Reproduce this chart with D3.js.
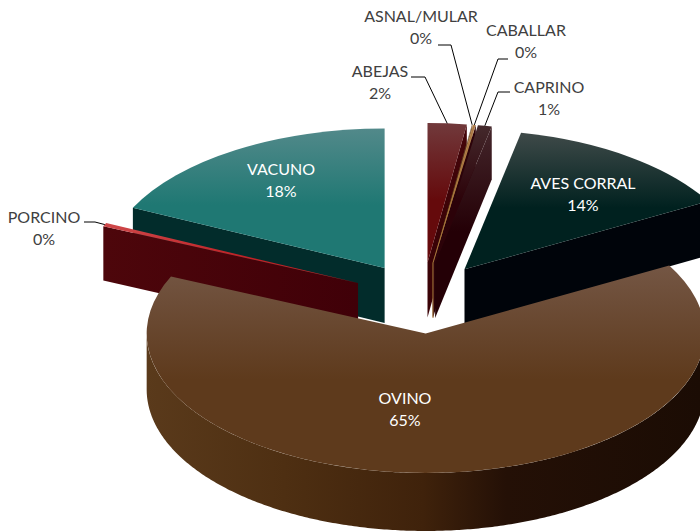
<!DOCTYPE html>
<html lang="en">
<head>
  <meta charset="UTF-8">
  <title>chart</title>
</head>
<body>
<style>
  * {
    padding: 0;
    margin: 0;
  }

  body {
    background: #fff;
  }

  svg {
    display: block;
  }

  text {
    font-family: Lato, "Open Sans", sans-serif;
    font-size: 16px;
    text-anchor: middle;
  }
</style>

<div id="app"></div>

<script src="https://cdn.jsdelivr.net/npm/d3@7/dist/d3.min.js"></script>
<script>
  // shares, in drawing order from 12 o'clock
  const categories = ["ABEJAS", "ASNAL/MULAR", "CABALLAR", "CAPRINO", "AVES CORRAL", "OVINO", "PORCINO", "VACUNO"];
  const shares = [2.25, 0.03, 0.17, 0.8, 13.64, 64.8, 0.4, 17.91];
  const percentLabels = ["2%", "0%", "0%", "1%", "14%", "65%", "0%", "18%"];

  // colours per slice: top surface light, top surface base, side light, side dark
  const topLight = ["#71393b", "#7a5a40", "#b98a5c", "#44292c", "#3f4a49", "#745644", "#cf4a4c", "#52898a"];
  const topBase = ["#650a0c", "#6b4a20", "#a8743c", "#2c0209", "#00211f", "#5e3a1c", "#c02226", "#1f7873"];
  const sideLight = ["#45050a", "#4a3010", "#2c0209", "#44262b", "#00040a", "#3f220b", "#4d060b", "#022c2b"];
  const sideDark = ["#3a0206", "#4a3010", "#2c0209", "#240006", "#00040a", "#3f220b", "#400008", "#022c2b"];

  // label layout: centre of the text block, elbow and start of the leader (null = inside the slice)
  const labelX = [380, 421, 526, 549, 583, 405, 44, 281];
  const labelY = [71, 16, 30, 87, 183, 398, 217, 169];
  const leaderStart = [[411, 77], [438, 45], [508, 59], [510, 92], null, null, [84, 222], null];
  const leaderElbow = [[425, 77], [451, 45], [498, 59], [498, 92], null, null, [95, 222], null];

  const $width = 700, $height = 532;
  const cx = 422.5, cy = 298; // pie centre before exploding
  const rx = 279, ry = 139.5; // ellipse of the tilted pie
  const explode = 71;         // how far each slice is pulled out
  const depth = d3.scaleLinear([268, 473], [55, 58]); // thicker toward the viewer

  const svg = d3.select("#app").append("svg").attr("width", $width).attr("height", $height);
  const defs = svg.append("defs");

  const slices = d3.pie().sort(null).value(d => d).startAngle(0).endAngle(2 * Math.PI)(shares);
  const arc = d3.arc().innerRadius(0).outerRadius(rx);

  slices.forEach(s => {
    const mid = (s.startAngle + s.endAngle) / 2;
    s.ox = cx + explode * Math.sin(mid);
    s.oy = cy - explode * Math.cos(mid) * ry / rx;
    s.mid = mid;
  });

  // screen position of a point on the top surface
  const px = (s, a, r) => s.ox + r * Math.sin(a);
  const py = (s, a, r) => s.oy - r * ry / rx * Math.cos(a);

  slices.forEach(s => {
    const i = s.index;
    const g = defs.append("linearGradient").attr("id", "top" + i)
      .attr("x1", 0).attr("y1", 0).attr("x2", 0).attr("y2", 1);
    g.append("stop").attr("offset", 0).attr("stop-color", topLight[i]);
    g.append("stop").attr("offset", 0.55).attr("stop-color", topBase[i]);
    g.append("stop").attr("offset", 1).attr("stop-color", topBase[i]);

    // thin slices fade downward, the wide porcino wall fades sideways
    const sg = defs.append("linearGradient").attr("id", "side" + i)
      .attr("x1", 0).attr("y1", 0)
      .attr("x2", i === 6 ? 1 : 0).attr("y2", i === 6 ? 0 : 0.55);
    sg.append("stop").attr("offset", 0).attr("stop-color", sideLight[i]);
    sg.append("stop").attr("offset", 1).attr("stop-color", sideDark[i]);
  });

  const rimGrad = defs.append("linearGradient").attr("id", "rim")
    .attr("gradientUnits", "userSpaceOnUse")
    .attr("x1", 146).attr("y1", 0).attr("x2", 700).attr("y2", 0);
  [[0, "#5a3a1b"], [0.25, "#4e2f12"], [0.5, "#3f220b"], [0.65, "#241006"], [1, "#1b0c04"]].forEach(c => {
    rimGrad.append("stop").attr("offset", c[0]).attr("stop-color", c[1]);
  });

  const line = d3.line();

  // quad hanging below a radial edge
  function radialFace(s, a) {
    const x0 = s.ox, y0 = s.oy, x1 = px(s, a, rx), y1 = py(s, a, rx);
    return line([[x0, y0], [x1, y1], [x1, y1 + depth(y1)], [x0, y0 + depth(y0)]]) + "Z";
  }

  // outer wall, only the half that faces the viewer
  function rimFace(s) {
    const a0 = Math.max(s.startAngle, Math.PI / 2), a1 = Math.min(s.endAngle, 3 * Math.PI / 2);
    if (a0 >= a1) return null;
    const angles = d3.range(a0, a1, 0.01).concat([a1]);
    const upper = angles.map(a => [px(s, a, rx), py(s, a, rx)]);
    const lower = upper.map(p => [p[0], p[1] + depth(p[1])]).reverse();
    return line(upper.concat(lower)) + "Z";
  }

  // back to front: the big slice goes last, the thin ones in pie order
  const drawOrder = [7, 6, 4, 0, 1, 2, 3, 5];

  drawOrder.forEach(i => {
    const s = slices[i];
    const g = svg.append("g");
    const faces = [];
    if (Math.sin(s.startAngle) < -1e-6) faces.push(radialFace(s, s.startAngle));
    if (Math.sin(s.endAngle) > 1e-6) faces.push(radialFace(s, s.endAngle));
    faces.forEach(f => g.append("path").attr("d", f).attr("fill", `url(#side${i})`));
    const rim = rimFace(s);
    if (rim) {
      g.append("path").attr("d", rim).attr("fill", "url(#rim)");
    }
    g.append("path").attr("d", arc(s))
      .attr("transform", `translate(${s.ox},${s.oy}) scale(1,${ry / rx})`)
      .attr("fill", `url(#top${i})`);
  });

  // the caballar slice is so thin it only reads as a line, running on down its inner edge
  const cab = slices[2];
  svg.append("path")
    .attr("d", line([[px(cab, cab.mid, rx), py(cab, cab.mid, rx)], [cab.ox, cab.oy], [cab.ox, cab.oy + depth(cab.oy)]]))
    .attr("fill", "none").attr("stroke", topBase[2]).attr("stroke-width", 1);

  // leaders end on the far rim of their slice
  slices.forEach(s => {
    const i = s.index;
    if (!leaderStart[i]) return;
    const end = [px(s, s.mid, rx), py(s, s.mid, rx)];
    svg.append("path").attr("d", line([leaderStart[i], leaderElbow[i], end]))
      .attr("fill", "none").attr("stroke", "#000").attr("stroke-width", 1);
  });

  slices.forEach(s => {
    const i = s.index;
    const t = svg.append("text").attr("x", labelX[i]).attr("y", labelY[i] + 5.5)
      .attr("fill", leaderStart[i] ? "#404040" : "#fff");
    t.append("tspan").attr("x", labelX[i]).text(categories[i]);
    t.append("tspan").attr("x", labelX[i]).attr("dy", 22.5).text(percentLabels[i]);
  });
</script>
</body>
</html>
